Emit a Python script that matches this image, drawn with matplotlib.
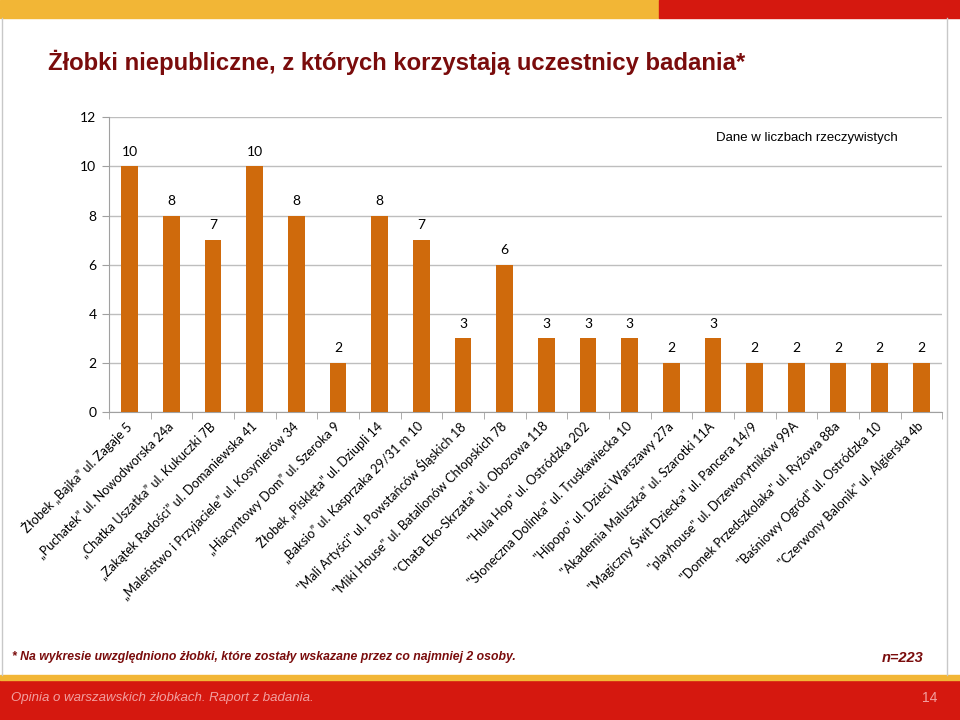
import numpy as np
import matplotlib
matplotlib.use("Agg")
import matplotlib.pyplot as plt
from matplotlib.patches import Rectangle
from matplotlib.lines import Line2D

# dane z wykresu
zlobki = [
    "Żłobek „Bajka” ul. Zagaje 5",
    "„Puchatek” ul. Nowodworska 24a",
    "„Chatka Uszatka” ul. Kukuczki 7B",
    "„Zakątek Radości” ul. Domaniewska 41",
    "„Maleństwo i Przyjaciele” ul. Kosynierów 34",
    "„Hiacyntowy Dom” ul. Szeroka 9",
    "Żłobek „Pisklęta” ul. Dziupli 14",
    "„Baksio” ul. Kasprzaka 29/31 m 10",
    "\"Mali Artyści\" ul. Powstańców Śląskich 18",
    "\"Miki House\" ul. Batalionów Chłopskich 78",
    "\"Chata Eko-Skrzata\" ul. Obozowa 118",
    "\"Hula Hop\" ul. Ostródzka 202",
    "\"Słoneczna Dolinka\" ul. Truskawiecka 10",
    "\"Hipopo\" ul. Dzieci Warszawy 27a",
    "\"Akademia Maluszka\" ul. Szarotki 11A",
    "\"Magiczny Świt Dziecka\" ul. Pancera 14/9",
    "\"playhouse\" ul. Drzeworytników 99A",
    "\"Domek Przedszkolaka\" ul. Ryżowa 88a",
    "\"Baśniowy Ogród\" ul. Ostródzka 10",
    "\"Czerwony Balonik\" ul. Algierska 4b",
]
liczby = [10, 8, 7, 10, 8, 2, 8, 7, 3, 6, 3, 3, 3, 2, 3, 2, 2, 2, 2, 2]
y_ticks = [0, 2, 4, 6, 8, 10, 12]

tytul = "Żłobki niepubliczne, z których korzystają uczestnicy badania*"
przypis = "* Na wykresie uwzględniono żłobki, które zostały wskazane przez co najmniej 2 osoby."
stopka = "Opinia o warszawskich żłobkach. Raport z badania."

pomarancz = "#CF6A0C"
ciemnoczerw = "#7A0C0C"
czerwony = "#D5180F"
zolty = "#F2B636"
etykiety = ["Lato", "DejaVu Sans"]

fig = plt.figure(figsize=(9.6, 7.2), dpi=100)

# pasy u gory i na dole slajdu
fig.patches.append(Rectangle((0, 0.975), 0.686, 0.025, transform=fig.transFigure, color=zolty, zorder=0))
fig.patches.append(Rectangle((0.686, 0.975), 0.314, 0.025, transform=fig.transFigure, color=czerwony, zorder=0))
fig.patches.append(Rectangle((0, 0.0), 1, 0.056, transform=fig.transFigure, color=czerwony, zorder=0))
fig.patches.append(Rectangle((0, 0.056), 1, 0.006, transform=fig.transFigure, color=zolty, zorder=0))
# ramka slajdu
fig.lines.append(Line2D([0.002, 0.002], [0.062, 0.975], transform=fig.transFigure, color="#C8C8C8", lw=1))
fig.lines.append(Line2D([0.986, 0.986], [0.062, 0.975], transform=fig.transFigure, color="#C8C8C8", lw=1))

fig.text(0.05, 0.913, tytul, fontsize=17.2, fontweight="bold", color=ciemnoczerw,
         family="Liberation Sans", va="center")

ax = fig.add_axes([0.1135, 0.428, 0.868, 0.409])
x = np.arange(len(liczby))
ax.bar(x, liczby, width=0.4, color=pomarancz, zorder=3)
for xi, v in zip(x, liczby):
    ax.text(xi, v + 0.35, str(v), ha="center", va="bottom", fontsize=10, family=etykiety)

ax.set_xlim(-0.5, len(liczby) - 0.5)
ax.set_ylim(0, 12)
ax.set_yticks(y_ticks)
ax.set_yticklabels([str(t) for t in y_ticks], fontsize=10, family=etykiety)
ax.yaxis.grid(True, color="#BEBEBE", linewidth=1, zorder=0)
ax.set_xticks(x)
ax.set_xticklabels(zlobki, rotation=45, ha="right", va="center", rotation_mode="anchor",
                   fontsize=9.2, family=etykiety)
ax.set_xticks(np.arange(-0.5, len(liczby)), minor=True)
ax.tick_params(axis="x", which="major", length=0, pad=9)
ax.tick_params(axis="x", which="minor", length=5, color="#A0A0A0")
ax.tick_params(axis="y", length=5, color="#A0A0A0", pad=4)
for s in ["top", "right"]:
    ax.spines[s].set_visible(False)
for s in ["left", "bottom"]:
    ax.spines[s].set_color("#A0A0A0")

fig.text(0.935, 0.809, "Dane w liczbach rzeczywistych", fontsize=9.5, ha="right",
         va="center", family="Liberation Sans")

fig.text(0.012, 0.088, przypis, fontsize=8.8, fontstyle="italic", fontweight="bold",
         color=ciemnoczerw, family="Liberation Sans", va="center")
fig.text(0.962, 0.086, "n=223", fontsize=10.5, fontstyle="italic", fontweight="bold",
         color=ciemnoczerw, family="Liberation Sans", va="center", ha="right")
fig.text(0.011, 0.031, stopka, fontsize=9.5, fontstyle="italic", color="#F2A0A0",
         family="Liberation Sans", va="center")
fig.text(0.976, 0.031, "14", fontsize=10, color="#F2A0A0", family="Liberation Sans",
         va="center", ha="right")

fig.savefig("out.png", dpi=100)
